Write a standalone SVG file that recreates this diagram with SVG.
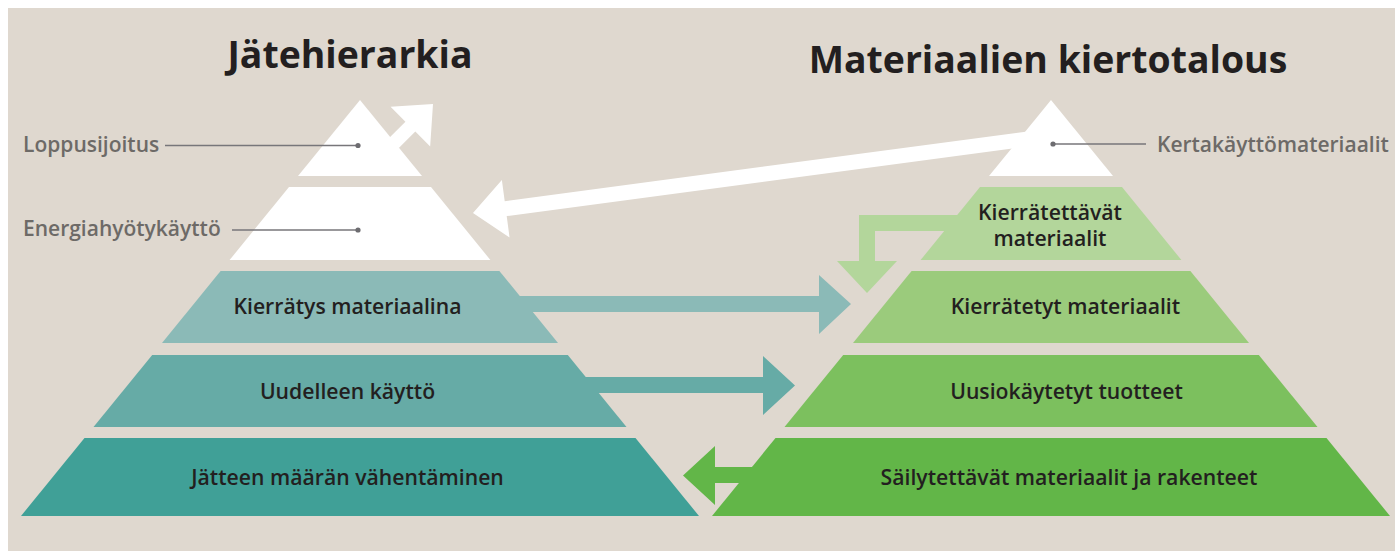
<svg xmlns="http://www.w3.org/2000/svg" width="1395" height="551" viewBox="0 0 1395 551">
<style>
.t{font-family:"Open Sans","Noto Sans","Liberation Sans",sans-serif;font-weight:600;font-size:21.2px;fill:#231f20;text-anchor:middle}
.h{font-family:"Open Sans","Noto Sans","Liberation Sans",sans-serif;font-weight:700;font-size:37.4px;fill:#231f20;text-anchor:middle}
.l{font-family:"Open Sans","Noto Sans","Liberation Sans",sans-serif;font-weight:600;font-size:21px;fill:#6d6a67}
.ln{stroke:#77767a;stroke-width:1.5;fill:none}
.dot{fill:#6d6c70}
.w{fill:#ffffff}
</style>
<rect x="0" y="0" width="1395" height="551" fill="#ffffff"/>
<rect x="8" y="8" width="1387" height="543" fill="#dfd8cf"/>

<text class="h" x="350" y="68">Jätehierarkia</text>
<text class="h" x="1048" y="73">Materiaalien kiertotalous</text>

<g id="left-loppusijoitus"><polygon class="w" points="360,100 422,176 298,176"/></g>
<g id="left-energia"><polygon class="w" points="289,187 431,187 490.4,260 229.6,260"/></g>
<g id="left-kierratys"><polygon fill="#8bbab7" points="220.6,271 499.4,271 558,343 162,343"/><text class="t" x="347.5" y="314">Kierrätys materiaalina</text></g>
<g id="left-uudelleen"><polygon fill="#66aba6" points="152.2,355 567.8,355 626.5,427 93.5,427"/><text class="t" x="347.5" y="399">Uudelleen käyttö</text></g>
<g id="left-vahentaminen"><polygon fill="#40a097" points="84.5,438 635.5,438 699,516 21,516"/><text class="t" x="347.5" y="485">Jätteen määrän vähentäminen</text></g>

<g id="right-kertakaytto"><polygon class="w" points="1051,100 1113,176 989,176"/></g>
<g id="right-kierratettavat"><polygon fill="#b3d69b" points="980,187 1122,187 1181.4,260 920.6,260"/><text class="t" x="1050" y="220">Kierrätettävät<tspan x="1050" dy="26">materiaalit</tspan></text></g>
<g id="right-kierratetyt"><polygon fill="#9bcb7c" points="911.6,271 1190.4,271 1249,343 853,343"/><text class="t" x="1065.5" y="314">Kierrätetyt materiaalit</text></g>
<g id="right-uusio"><polygon fill="#7cc05e" points="843.2,355 1258.8,355 1317.5,427 784.5,427"/><text class="t" x="1066.5" y="399">Uusiokäytetyt tuotteet</text></g>
<g id="right-sailytettavat"><polygon fill="#62b648" points="775.5,438 1326.5,438 1390,516 712,516"/><text class="t" x="1069" y="485">Säilytettävät materiaalit ja rakenteet</text></g>

<g id="labels">
<text class="l" x="23" y="152">Loppusijoitus</text>
<text class="l" x="23" y="236">Energiahyötykäyttö</text>
<text class="l" x="1157" y="152">Kertakäyttömateriaalit</text>
</g>

<g id="connectors">
<line class="ln" x1="165" y1="145.5" x2="358" y2="145.5"/><circle class="dot" cx="358" cy="145.5" r="2.6"/>
<line class="ln" x1="232" y1="230" x2="358" y2="230"/><circle class="dot" cx="358" cy="230" r="2.6"/>
<line class="ln" x1="1053" y1="144" x2="1146" y2="144"/><circle class="dot" cx="1053" cy="144" r="2.6"/>
<polygon class="w" transform="translate(433,104) rotate(-45)" points="0,0 -32,-28 -32,-7 -80,-7 -80,7 -32,7 -32,28"/>
<polygon class="w" transform="translate(473,213) rotate(172.4)" points="0,0 -33,-29 -33,-7.5 -570,-7.5 -570,7.5 -33,7.5 -33,29"/>
<polygon fill="#b3d69b" points="960,215 859,215 859,261 837,261 867,293 897,261 875,261 875,231 960,231"/>
<polygon fill="#8bbab7" points="500,296 819,296 819,275 851,304 819,334 819,312 500,312"/>
<polygon fill="#66aba6" points="560,377 763,377 763,356 795,385.5 763,415 763,393 560,393"/>
<polygon fill="#62b648" points="790,467 715,467 715,446 683,475.5 715,505 715,483 790,483"/>
</g>
</svg>
